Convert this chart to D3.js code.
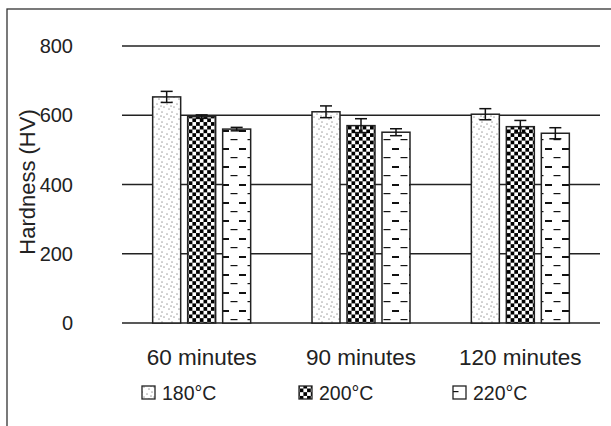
<!DOCTYPE html>
<html><head><meta charset="utf-8">
<script src="https://cdn.jsdelivr.net/npm/d3@7"></script>
<style>body{margin:0;background:#fff}svg{display:block}text{font-family:"Liberation Sans",Arial,sans-serif;fill:#222}</style>
</head><body>
<script>
const categories = ["60 minutes", "90 minutes", "120 minutes"];
const seriesNames = ["180°C", "200°C", "220°C"];
const values180 = [653, 610, 603];
const values200 = [596, 570, 567];
const values220 = [560, 551, 548];
const err180 = [16, 17, 16];
const err200 = [5, 20, 18];
const err220 = [5, 10, 16];
const yTicks = [0, 200, 400, 600, 800];

const W = 611, H = 426;
const svg = d3.select("body").append("svg").attr("width", W).attr("height", H);
const defs = svg.append("defs");

// dotted pattern
const pDots = defs.append("pattern").attr("id", "pDots").attr("patternUnits", "userSpaceOnUse")
  .attr("width", 10).attr("height", 10);
pDots.append("rect").attr("width", 10).attr("height", 10).attr("fill", "#fff");
[[2,2],[7,4],[4,7],[9,9],[1,6]].forEach(([x,y]) =>
  pDots.append("circle").attr("cx", x).attr("cy", y).attr("r", 0.85).attr("fill", "#aaa"));

// checker pattern
const cs = 3.7;
const pChk = defs.append("pattern").attr("id", "pChk").attr("patternUnits", "userSpaceOnUse")
  .attr("width", 2 * cs).attr("height", 2 * cs);
pChk.append("rect").attr("width", 2 * cs).attr("height", 2 * cs).attr("fill", "#fff");
pChk.append("rect").attr("width", cs).attr("height", cs).attr("fill", "#000");
pChk.append("rect").attr("x", cs).attr("y", cs).attr("width", cs).attr("height", cs).attr("fill", "#000");

// dash pattern
const pDash = defs.append("pattern").attr("id", "pDash").attr("patternUnits", "userSpaceOnUse")
  .attr("width", 17).attr("height", 18);
pDash.append("rect").attr("width", 17).attr("height", 18).attr("fill", "#fff");
pDash.append("rect").attr("x", 1).attr("y", 4).attr("width", 7).attr("height", 2).attr("fill", "#111");
pDash.append("rect").attr("x", 9.5).attr("y", 13).attr("width", 7).attr("height", 1.2).attr("fill", "#111");

const fills = ["url(#pDots)", "url(#pChk)", "url(#pDash)"];

// outer frame
svg.append("rect").attr("x", 7).attr("y", 9).attr("width", 620).attr("height", 430)
  .attr("fill", "none").attr("stroke", "#333").attr("stroke-width", 1.3);

const x0 = d3.scaleBand().domain(categories).range([122, 600]).paddingInner(0.385).paddingOuter(0.1925);
const x1 = d3.scaleBand().domain(seriesNames).range([0, x0.bandwidth()]).paddingInner(0.2).paddingOuter(0);
const y = d3.scaleLinear().domain([0, 800]).range([323, 46]);

// gridlines
svg.append("g").selectAll("line").data(yTicks).join("line")
  .attr("x1", 122).attr("x2", 600).attr("y1", d => y(d)).attr("y2", d => y(d))
  .attr("stroke", "#222").attr("stroke-width", 1.5);

// y tick labels
svg.append("g").selectAll("text").data(yTicks).join("text")
  .attr("x", 73).attr("y", d => y(d)).attr("dy", "0.35em").attr("text-anchor", "end")
  .attr("font-size", 20).text(d => d);

// y title
svg.append("text").attr("transform", "translate(35,182) rotate(-90)")
  .attr("text-anchor", "middle").attr("font-size", 22).text("Hardness (HV)");

const allVals = [values180, values200, values220];
const allErr = [err180, err200, err220];
const data = [];
categories.forEach((c, i) => seriesNames.forEach((s, j) =>
  data.push({c, s, j, v: allVals[j][i], e: allErr[j][i]})));

const bars = svg.append("g");
bars.selectAll("rect").data(data).join("rect")
  .attr("x", d => x0(d.c) + x1(d.s)).attr("width", x1.bandwidth())
  .attr("y", d => y(d.v)).attr("height", d => y(0) - y(d.v))
  .attr("fill", d => fills[d.j]).attr("stroke", "#222").attr("stroke-width", 1.5);

// error bars
const eb = svg.append("g").attr("stroke", "#111").attr("stroke-width", 1.5);
data.forEach(d => {
  const cx = x0(d.c) + x1(d.s) + x1.bandwidth() / 2;
  eb.append("line").attr("x1", cx).attr("x2", cx).attr("y1", y(d.v + d.e)).attr("y2", y(d.v - d.e));
  eb.append("line").attr("x1", cx - 6).attr("x2", cx + 6).attr("y1", y(d.v + d.e)).attr("y2", y(d.v + d.e));
  eb.append("line").attr("x1", cx - 6).attr("x2", cx + 6).attr("y1", y(d.v - d.e)).attr("y2", y(d.v - d.e));
});

// category labels
svg.append("g").selectAll("text").data(categories).join("text")
  .attr("x", d => x0(d) + x0.bandwidth() / 2).attr("y", 357).attr("dy", "0.35em")
  .attr("text-anchor", "middle").attr("font-size", 22.5).text(d => d);

// legend
const legX = [142, 299, 453];
const leg = svg.append("g");
seriesNames.forEach((s, j) => {
  leg.append("rect").attr("x", legX[j]).attr("y", 386).attr("width", 13).attr("height", 13)
    .attr("fill", fills[j]).attr("stroke", "#222").attr("stroke-width", 1.3);
  leg.append("text").attr("x", legX[j] + 20).attr("y", 393).attr("dy", "0.35em")
    .attr("font-size", 19.5).text(s);
});
</script>
</body></html>
